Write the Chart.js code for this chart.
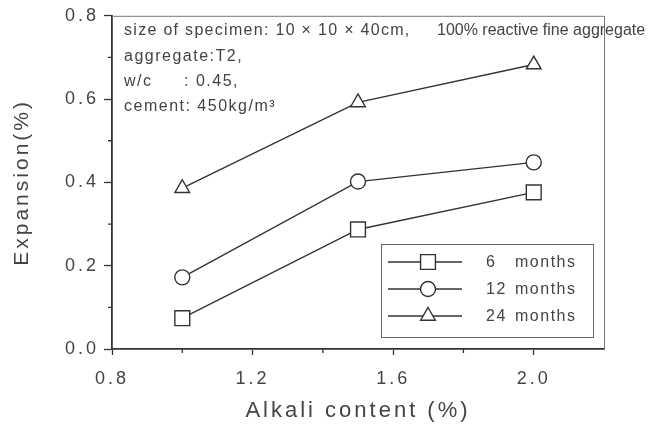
<!DOCTYPE html>
<html>
<head>
<meta charset="UTF-8">
<script src="https://cdn.jsdelivr.net/npm/chart.js"></script>
<style>
  html, body { margin: 0; padding: 0; background: #fff; }
  #wrap { width: 654px; height: 425px; }
</style>
</head>
<body>
<div id="wrap"><canvas id="c" width="654" height="425"></canvas></div>
<script>
// data
const alkali = [1.0, 1.5, 2.0];
const exp6 = [0.074, 0.287, 0.376];
const exp12 = [0.172, 0.402, 0.448];
const exp24 = [0.386, 0.592, 0.683];
const seriesNames = ['6', '12', '24'];
const xTicks = [0.8, 1.2, 1.6, 2.0];
const yTicks = [0.0, 0.2, 0.4, 0.6, 0.8];
const xMinor = [1.0, 1.4, 1.8];
const yMinor = [0.1, 0.3, 0.5, 0.7];
const noteLines = ['aggregate:T2,', 'w/c', 'cement: 450kg/m\u00b3'];

const ink = '#333';
const txt = '#444';
const fontFam = '"Liberation Sans", Arial, sans-serif';

function pts(ys) { return alkali.map((x, i) => ({ x: x, y: ys[i] })); }

function ds(label, ys, style, r) {
  return {
    label: label, data: pts(ys), showLine: true,
    borderColor: ink, borderWidth: 1.4,
    pointStyle: style, pointRadius: r, pointHoverRadius: r,
    pointBackgroundColor: '#fff', pointBorderColor: ink, pointBorderWidth: 1.4
  };
}

// wide tracking like the scanned figure
const spacing = {
  id: 'spacing',
  beforeDraw(chart) { chart.ctx.letterSpacing = '3px'; }
};

const extras = {
  id: 'extras',
  afterDraw(chart) {
    const ctx = chart.ctx, a = chart.chartArea;
    const xs = chart.scales.x, ys = chart.scales.y;
    ctx.save();
    // top / right frame
    ctx.strokeStyle = '#777';
    ctx.lineWidth = 1;
    ctx.beginPath();
    ctx.moveTo(a.left, a.top + 0.5); ctx.lineTo(a.right + 0.5, a.top + 0.5);
    ctx.lineTo(a.right + 0.5, a.bottom);
    ctx.stroke();
    // minor ticks
    ctx.strokeStyle = ink;
    ctx.lineWidth = 1.3;
    ctx.beginPath();
    yMinor.forEach(v => {
      const y = ys.getPixelForValue(v);
      ctx.moveTo(a.left - 4, y); ctx.lineTo(a.left, y);
    });
    xMinor.forEach(v => {
      const x = xs.getPixelForValue(v);
      ctx.moveTo(x, a.bottom); ctx.lineTo(x, a.bottom + 4);
    });
    ctx.stroke();

    // annotation
    ctx.fillStyle = txt;
    ctx.textBaseline = 'alphabetic';
    ctx.textAlign = 'left';
    ctx.font = '16px ' + fontFam;
    ctx.letterSpacing = '1.3px';
    const x0 = a.left + 12;
    ctx.fillText('size of specimen: 10 \u00d7 10 \u00d7 40cm,', x0, 35, 296);
    ctx.letterSpacing = '0px';
    ctx.fillText('100% reactive fine aggregate', 437, 35, 213);
    ctx.letterSpacing = '1.5px';
    ctx.fillText(noteLines[0], x0, 61);
    ctx.fillText(noteLines[1], x0, 86);
    ctx.fillText(': 0.45,', 184, 86);
    ctx.fillText(noteLines[2], x0, 111);

    // legend box
    const bx = 381, by = 244, bw = 212, bh = 93;
    ctx.fillStyle = '#fff';
    ctx.fillRect(bx, by, bw, bh);
    ctx.strokeStyle = '#666';
    ctx.lineWidth = 1;
    ctx.strokeRect(bx + 0.5, by + 0.5, bw, bh);
    ctx.font = '16px ' + fontFam;
    ctx.letterSpacing = '1.5px';
    chart.data.datasets.forEach((d, i) => {
      const y = 262 + i * 27;
      ctx.strokeStyle = ink;
      ctx.lineWidth = 1.4;
      ctx.beginPath();
      ctx.moveTo(388, y); ctx.lineTo(462, y);
      ctx.stroke();
      ctx.fillStyle = '#fff';
      Chart.helpers.drawPoint(ctx, {
        pointStyle: d.pointStyle, radius: d.pointRadius, borderWidth: d.pointBorderWidth, rotation: 0
      }, 428, y);
      ctx.fillStyle = txt;
      ctx.textBaseline = 'middle';
      ctx.fillText(seriesNames[i], 486, y + 1);
      ctx.fillText('months', 515, y + 1);
    });
    ctx.restore();
  }
};

new Chart(document.getElementById('c'), {
  type: 'scatter',
  data: {
    datasets: [
      ds('6 months', exp6, 'rect', 10.5),
      ds('12 months', exp12, 'circle', 7.5),
      ds('24 months', exp24, 'triangle', 8.5)
    ]
  },
  options: {
    responsive: false,
    animation: false,
    devicePixelRatio: 1,
    layout: { padding: { top: 15, right: 50, left: 0, bottom: 0 } },
    plugins: { legend: { display: false }, tooltip: { enabled: false } },
    scales: {
      x: {
        type: 'linear', min: 0.8, max: 2.2,
        afterBuildTicks(s) { s.ticks = xTicks.map(v => ({ value: v })); },
        afterFit(s) { s.height = 76; },
        border: { color: ink, width: 1.8 },
        grid: { drawOnChartArea: false, drawTicks: true, tickLength: 6, tickColor: ink, tickWidth: 1.3 },
        ticks: {
          color: txt, padding: 13, font: { size: 18, family: fontFam },
          callback: v => v.toFixed(1)
        },
        title: {
          display: true, text: 'Alkali content (%)', color: txt,
          font: { size: 22, family: fontFam }, padding: { top: 0, bottom: 1 }
        }
      },
      y: {
        type: 'linear', min: 0, max: 0.8,
        afterBuildTicks(s) { s.ticks = yTicks.map(v => ({ value: v })); },
        afterFit(s) { s.width = 112; },
        border: { color: ink, width: 1.8 },
        grid: { drawOnChartArea: false, drawTicks: true, tickLength: 8, tickColor: ink, tickWidth: 1.3 },
        ticks: {
          color: txt, padding: 5, font: { size: 18, family: fontFam },
          callback: v => v.toFixed(1)
        },
        title: {
          display: true, text: 'Expansion(%)', color: txt,
          font: { size: 21, family: fontFam }, padding: { top: 10, bottom: 0 }
        }
      }
    }
  },
  plugins: [spacing, extras]
});
</script>
</body>
</html>
